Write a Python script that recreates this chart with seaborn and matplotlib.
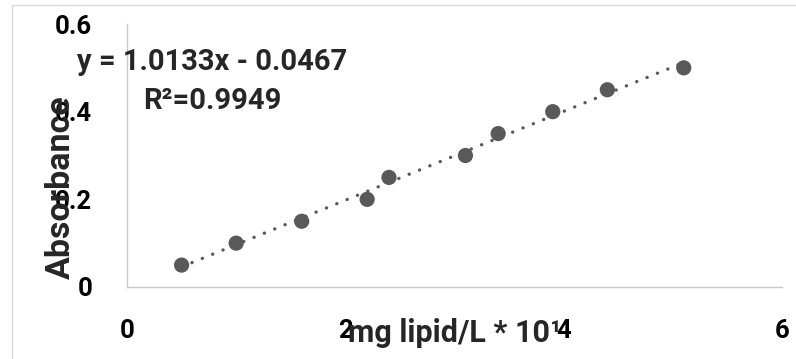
import matplotlib
matplotlib.use("Agg")
import matplotlib.pyplot as plt
import seaborn as sns
import pandas as pd
from matplotlib.patches import Rectangle

# data
conc = [0.5, 1.0, 1.6, 2.2, 2.4, 3.1, 3.4, 3.9, 4.4, 5.1]
absorbance = [0.05, 0.10, 0.15, 0.20, 0.25, 0.30, 0.35, 0.40, 0.45, 0.50]
x_ticks = [0, 2, 4, 6]
y_ticks = [0, 0.2, 0.4, 0.6]
y_tick_labels = ["0", "0.2", "0.4", "0.6"]
x_label = "mg lipid/L * 10\u00b9"
y_label = "Absorbance"
equation = "y = 1.0133x - 0.0467"
r2_text = "R\u00b2=0.9949"

df = pd.DataFrame({"conc": conc, "abs": absorbance})

sns.set_style("white")
plt.rcParams["font.family"] = ["Roboto", "DejaVu Sans"]
plt.rcParams["font.weight"] = "bold"

W, H = 796, 359
fig = plt.figure(figsize=(W / 100, H / 100), dpi=100)
ax = fig.add_axes([127 / W, 1 - 287 / H, (782 - 127) / W, (287 - 24) / H])

gray = "#595959"
sns.regplot(data=df, x="conc", y="abs", ax=ax, ci=None, truncate=True,
            scatter_kws=dict(s=120, color=gray, edgecolor="none", zorder=3, alpha=1),
            line_kws=dict(color=gray, lw=2.4, linestyle=(0, (0.05, 3.3)),
                          dash_capstyle="round", solid_capstyle="round", zorder=2))

ax.set_xlim(0, 6)
ax.set_ylim(0, 0.6)
ax.set_xticks(x_ticks)
ax.set_xticklabels([str(t) for t in x_ticks])
ax.set_yticks(y_ticks)
ax.set_yticklabels(y_tick_labels)

for side in ["top", "right"]:
    ax.spines[side].set_visible(False)
for side in ["left", "bottom"]:
    ax.spines[side].set_color("#c8c8c8")
    ax.spines[side].set_linewidth(1.0)

ax.tick_params(axis="x", direction="out", length=8, width=1.0, color="#c8c8c8",
               pad=15, labelsize=18.5, labelcolor="black")
ax.tick_params(axis="y", direction="out", length=7, width=1.0, color="#c8c8c8",
               pad=18, labelsize=18.5, labelcolor="black")
for lab in ax.get_xticklabels() + ax.get_yticklabels():
    lab.set_fontweight("bold")

ax.set_xlabel(x_label, fontsize=22, fontweight="bold", va="center")
ax.xaxis.set_label_coords(0.5, -0.175)
ax.set_ylabel(y_label, fontsize=24.5, fontweight="bold", va="center")
ax.yaxis.set_label_coords(-0.1008, 0.38)

ax.text(0.130, 0.857, equation, transform=ax.transAxes, ha="center", va="center",
        fontsize=21, fontweight="bold")
ax.text(0.131, 0.708, r2_text, transform=ax.transAxes, ha="center", va="center",
        fontsize=21, fontweight="bold")

# chart area border (left and top visible)
fig.patches.append(Rectangle((12 / W, -0.1), 1.2, 1 - 5 / H + 0.1, transform=fig.transFigure,
                             fill=False, edgecolor="#d9d9d9", lw=1.0))

fig.savefig("out.png", dpi=100)
